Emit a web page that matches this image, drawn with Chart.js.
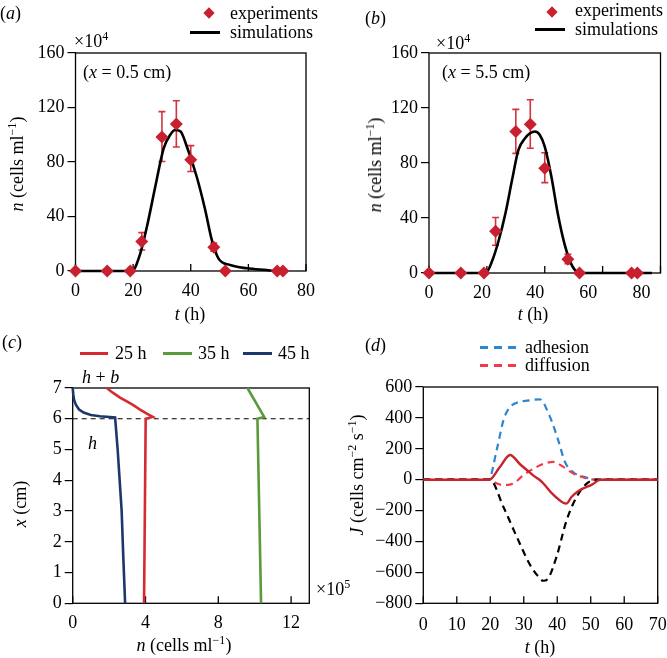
<!DOCTYPE html>
<html>
<head>
<meta charset="utf-8">
<script src="https://cdn.jsdelivr.net/npm/chart.js@4.4.1/dist/chart.umd.min.js"></script>
<style>
html, body { margin: 0; padding: 0; background: #fff; }
#wrap { position: relative; width: 667px; height: 658px; overflow: hidden; font-family: 'Liberation Serif', 'Times New Roman', serif; font-size: 18px; color: #000; }
canvas { position: absolute; left: 0; top: 0; }
.t { position: absolute; white-space: nowrap; line-height: 1; transform: translate(0, -50%); }
.c { transform: translate(-50%, -50%); }
.r { transform: translate(-50%, -50%) rotate(-90deg); }
sup { font-size: 12px; vertical-align: 0; position: relative; top: -7px; }
.ln { position: absolute; }
.dm { position: absolute; width: 8px; height: 8px; background: #c8202f; transform: translate(-50%, -50%) rotate(45deg); }
</style>
</head>
<body>
<div id="wrap">
  <canvas id="ca" width="667" height="658"></canvas>
  <canvas id="cb" width="667" height="658"></canvas>
  <canvas id="cc" width="667" height="658"></canvas>
  <canvas id="cd" width="667" height="658"></canvas>

  <!-- panel a -->
  <div class="t" style="left:0px;top:13px">(<i>a</i>)</div>
  <div class="dm" style="left:209px;top:13px"></div>
  <div class="t" style="left:230px;top:13px">experiments</div>
  <div class="ln" style="left:190px;top:31px;width:30px;height:3px;background:#000"></div>
  <div class="t" style="left:230px;top:32px">simulations</div>
  <div class="t" style="left:74px;top:41px">×10<sup>4</sup></div>
  <div class="t" style="left:83px;top:72px">(<i>x</i> = 0.5 cm)</div>
  <div class="t r" style="left:17px;top:164px"><i>n</i> (cells ml<sup>−1</sup>)</div>
  <div class="t c" style="left:190px;top:314px"><i>t</i> (h)</div>

  <!-- panel b -->
  <div class="t" style="left:365px;top:18px">(<i>b</i>)</div>
  <div class="dm" style="left:552px;top:12px"></div>
  <div class="t" style="left:575px;top:10px">experiments</div>
  <div class="ln" style="left:535px;top:28px;width:30px;height:3px;background:#000"></div>
  <div class="t" style="left:575px;top:29px">simulations</div>
  <div class="t" style="left:436px;top:43px">×10<sup>4</sup></div>
  <div class="t" style="left:442px;top:72px">(<i>x</i> = 5.5 cm)</div>
  <div class="t r" style="left:375px;top:165px"><i>n</i> (cells ml<sup>−1</sup>)</div>
  <div class="t c" style="left:533px;top:314px"><i>t</i> (h)</div>

  <!-- panel c -->
  <div class="t" style="left:2px;top:342px">(<i>c</i>)</div>
  <div class="ln" style="left:80px;top:352px;width:28px;height:3px;background:#d62a33"></div>
  <div class="t" style="left:115px;top:353px">25 h</div>
  <div class="ln" style="left:163px;top:352px;width:29px;height:3px;background:#5b9a3b"></div>
  <div class="t" style="left:198px;top:353px">35 h</div>
  <div class="ln" style="left:243px;top:352px;width:29px;height:3px;background:#1d3868"></div>
  <div class="t" style="left:278px;top:353px">45 h</div>
  <div class="t" style="left:82px;top:377px"><i>h</i> + <i>b</i></div>
  <div class="t" style="left:88px;top:443px"><i>h</i></div>
  <div class="t" style="left:316px;top:589px">×10<sup>5</sup></div>
  <div class="t r" style="left:20px;top:504px"><i>x</i> (cm)</div>
  <div class="t c" style="left:184px;top:645px"><i>n</i> (cells ml<sup>−1</sup>)</div>

  <!-- panel d -->
  <div class="t" style="left:365px;top:345px">(<i>d</i>)</div>
  <div class="ln" style="left:480px;top:346px;width:38px;height:2.5px;background:repeating-linear-gradient(90deg,#2e86d1 0 8px,transparent 8px 14px)"></div>
  <div class="t" style="left:525px;top:347px">adhesion</div>
  <div class="ln" style="left:480px;top:364px;width:38px;height:2.5px;background:repeating-linear-gradient(90deg,#f23a48 0 8px,transparent 8px 14px)"></div>
  <div class="t" style="left:525px;top:365px">diffusion</div>
  <div class="t r" style="left:357px;top:475px"><i>J</i> (cells cm<sup>−2</sup> s<sup>−1</sup>)</div>
  <div class="t c" style="left:540px;top:647px"><i>t</i> (h)</div>
</div>

<script>
// (a) x = 0.5 cm
const tExp = [0, 11, 19, 23, 30, 35, 40, 48, 52, 70, 72];
const nExpA = [0, 0, 0, 21.6, 98.3, 107.8, 81.6, 17.4, 0, 0, 0];
const errLoA = [null, null, null, 15.4, 80.4, 91, 73, 14.5, null, null, null];
const errHiA = [null, null, null, 28.2, 117, 125, 92, 20.5, null, null, null];
const tSimA = [0, 19.6, 22.5, 24.8, 27.7, 30.6, 32.9, 34.6, 36.4, 38.7, 42.1, 45, 47.3, 49.6, 53.7, 59.5, 66.4, 69.8, 72];
const nSimA = [0, 0, 13, 32.6, 62, 90, 100, 103.5, 102.5, 91, 69, 45, 22.8, 9.3, 4.4, 2, 0.7, 0, 0];

// (b) x = 5.5 cm
const nExpB = [0, 0, 0, 30.4, 102.9, 108.2, 76.1, 10, 0, 0, 0];
const errLoB = [null, null, null, 20.2, 87, 90.7, 65.7, 6.8, null, null, null];
const errHiB = [null, null, null, 40.4, 119, 126, 87.5, 13.6, null, null, null];
const tSimB = [0, 19.6, 21.9, 24.1, 26.4, 28.7, 30.9, 33.2, 34.9, 36.6, 38.3, 40, 42.3, 44.5, 46.8, 49.1, 51.3, 53.6, 77];
const nSimB = [0, 0, 9.2, 23.8, 43.3, 67.6, 89.5, 98, 101.6, 102.9, 100.4, 91.9, 70, 43.3, 21.4, 6.8, 0.7, 0, 0];

// (c) profiles n (x10^5) against x (cm)
const n25 = [3.92, 4.01, 4.4, 4.07, 3.7, 3.33, 2.95, 2.6, 2.22, 1.87];
const x25 = [0, 6.0, 6.06, 6.17, 6.3, 6.44, 6.57, 6.69, 6.84, 7];
const n35 = [10.35, 10.15, 10.52, 9.6];
const x35 = [0, 6.0, 6.06, 7];
const n45 = [2.88, 2.78, 2.69, 2.58, 2.47, 2.33, 1.5, 1.0, 0.6, 0.35, 0.18, 0.08, 0.03, 0];
const x45 = [0, 1.5, 3, 4, 5, 6.04, 6.08, 6.12, 6.2, 6.3, 6.45, 6.6, 6.8, 7];
const interfaceX = 6;

// (d) fluxes
const tAdh = [0, 19.5, 22, 24, 25.9, 28.9, 31, 34.8, 37.8, 40.3, 42.3, 45, 48, 52, 70];
const jAdh = [0, 0, 200, 390, 470, 505, 512, 520, 408, 255, 115, 45, 18, 0, 0];
const tDif = [0, 19.9, 22, 23.9, 26.9, 29.9, 33.9, 36.8, 38.8, 41.8, 44.8, 48.8, 51.8, 70];
const jDif = [0, 0, -25, -35, -25, 29, 83, 109, 115, 83, 40, 8, 0, 0];
const tBlk = [0, 19.9, 23.9, 27.9, 31.9, 34.4, 35.8, 37.3, 39.8, 42.8, 45.8, 48.8, 51.8, 70];
const jBlk = [0, 0, -175, -369, -552, -628, -654, -638, -498, -262, -111, -25, 0, 0];
const tTot = [0, 19.7, 22.8, 25.9, 28.9, 30.9, 33, 34.8, 35.8, 38.8, 41.8, 42.8, 44.3, 46.8, 48.5, 50.5, 52.8, 70];
const jTot = [0, 0, 80, 160, 100, 63, 25, -2, -23, -97, -149, -154, -110, -67, -50, -30, 0, 0];

const W = 667, H = 658;
const FONT = { family: "'Liberation Serif', 'Times New Roman', serif", size: 18 };

function pts(xs, ys) {
    return xs.map((v, i) => ({ x: v, y: ys[i] }));
}

function fixW(w) {
    return function (s) { s.width = w; s.paddingTop = 0; s.paddingBottom = 0; s.paddingLeft = 0; s.paddingRight = 0; };
}
function fixH(h) {
    return function (s) { s.height = h; s.paddingTop = 0; s.paddingBottom = 0; s.paddingLeft = 0; s.paddingRight = 0; };
}

function minus(v) {
    return String(v).replace('-', '\u2212');
}

function yAxis(min, max, step) {
    return {
        min: min, max: max,
        ticks: { stepSize: step, font: FONT, color: '#000', padding: 3, includeBounds: false, callback: minus },
        grid: { drawOnChartArea: false, drawTicks: true, tickLength: 8, color: '#000', lineWidth: 1.2 },
        border: { display: false },
        afterFit: fixW(60)
    };
}

function xAxis(min, max, step, labels) {
    return {
        type: 'linear', position: 'bottom', min: min, max: max,
        ticks: { stepSize: step, font: FONT, color: '#000', padding: 9, maxRotation: 0, includeBounds: false, display: labels },
        grid: { display: false, drawTicks: false },
        border: { display: false },
        afterFit: fixH(labels ? 40 : 0)
    };
}

// box round the plot, inside ticks on x, error bars
const framePlugin = {
    id: 'frame',
    beforeDatasetsDraw(chart) {
        const ctx = chart.ctx, a = chart.chartArea, x = chart.scales.x;
        ctx.save();
        ctx.strokeStyle = '#000';
        ctx.lineWidth = 1.3;
        ctx.strokeRect(a.left, a.top, a.right - a.left, a.bottom - a.top);
        ctx.beginPath();
        x.ticks.forEach(t => {
            const px = x.getPixelForValue(t.value);
            ctx.moveTo(px, a.bottom);
            ctx.lineTo(px, a.bottom - 7);
        });
        ctx.stroke();

        const eb = chart.options.plugins.errorBars;
        if (eb) {
            const y = chart.scales.y;
            ctx.strokeStyle = '#d2343c';
            ctx.lineWidth = 1.6;
            eb.xs.forEach((tv, i) => {
                if (eb.lo[i] == null) return;
                const px = x.getPixelForValue(tv);
                const p1 = y.getPixelForValue(eb.lo[i]);
                const p2 = y.getPixelForValue(eb.hi[i]);
                ctx.beginPath();
                ctx.moveTo(px, p1); ctx.lineTo(px, p2);
                ctx.moveTo(px - 3.5, p1); ctx.lineTo(px + 3.5, p1);
                ctx.moveTo(px - 3.5, p2); ctx.lineTo(px + 3.5, p2);
                ctx.stroke();
            });
        }
        ctx.restore();
    }
};

function makeChart(id, area, datasets, scales, errorBars) {
    return new Chart(document.getElementById(id), {
        type: 'scatter',
        data: { datasets: datasets },
        options: {
            responsive: false,
            animation: false,
            devicePixelRatio: 1,
            clip: false,
            layout: {
                padding: { left: area.l - 60, right: W - area.r, top: area.t, bottom: H - area.b - 40 }
            },
            plugins: { legend: { display: false }, tooltip: { enabled: false }, errorBars: errorBars },
            scales: scales
        },
        plugins: [framePlugin]
    });
}

function expSet(ys) {
    return {
        data: pts(tExp, ys), showLine: false, pointStyle: 'rectRot', pointRadius: 6.5,
        backgroundColor: '#c8202f', borderWidth: 0, clip: false
    };
}
function simSet(xs, ys) {
    return {
        data: pts(xs, ys), showLine: true, borderColor: '#000', borderWidth: 2.6, pointRadius: 0,
        cubicInterpolationMode: 'monotone', clip: false
    };
}

// (a)
makeChart('ca', { l: 75.5, r: 306, t: 53, b: 271 },
    [expSet(nExpA), simSet(tSimA, nSimA)],
    { x: xAxis(0, 80, 20, true), y: yAxis(0, 160, 40) },
    { xs: tExp, lo: errLoA, hi: errHiA });

// (b): the printed tick labels sit left of the true tick marks, so a label-only axis carries them
const scalesB = { x: xAxis(0, 80, 20, false), x2: xAxis(0, 87.2, 20, true), y: yAxis(0, 160, 40) };
makeChart('cb', { l: 429, r: 664, t: 53, b: 273 },
    [expSet(nExpB), simSet(tSimB, nSimB)],
    scalesB,
    { xs: tExp, lo: errLoB, hi: errHiB });

// (c)
function prof(xs, ys, color) {
    return { data: pts(xs, ys), showLine: true, borderColor: color, borderWidth: 2.6, pointRadius: 0, clip: false };
}
makeChart('cc', { l: 72.7, r: 309.3, t: 388, b: 603.3 },
    [
        prof(n25, x25, '#d62a33'),
        prof(n35, x35, '#5b9a3b'),
        prof(n45, x45, '#1d3868'),
        { data: pts([0, 13], [interfaceX, interfaceX]), showLine: true, borderColor: '#000', borderWidth: 1.2, borderDash: [5, 4], pointRadius: 0 }
    ],
    { x: xAxis(0, 13, 4, true), y: yAxis(0, 7, 1) });

// (d)
function flux(xs, ys, color, dash) {
    return {
        data: pts(xs, ys), showLine: true, borderColor: color, borderWidth: dash ? 2.2 : 2.4, borderDash: dash || [],
        pointRadius: 0, cubicInterpolationMode: 'monotone', clip: false
    };
}
const scalesD = { x: xAxis(0, 70, 10, true), y: yAxis(-800, 600, 200) };
scalesD.x.ticks.padding = 11;
makeChart('cd', { l: 423.3, r: 657.7, t: 387, b: 603.3 },
    [
        flux(tTot, jTot, '#c8222d'),
        flux(tBlk, jBlk, '#000', [7, 5]),
        flux(tDif, jDif, '#f23a48', [7, 5]),
        flux(tAdh, jAdh, '#2e86d1', [7, 5])
    ],
    scalesD);
</script>
</body>
</html>
